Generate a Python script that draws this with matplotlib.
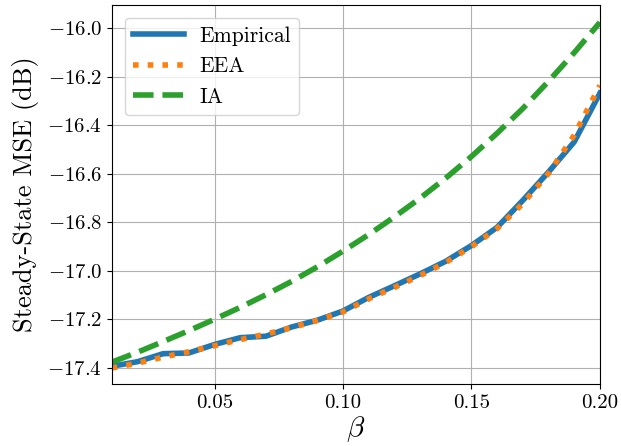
import numpy as np
import matplotlib
matplotlib.use("Agg")
import matplotlib.pyplot as plt

plt.rcParams['font.family'] = 'serif'
plt.rcParams['font.serif'] = ['cmr10']
plt.rcParams['mathtext.fontset'] = 'cm'
plt.rcParams['axes.formatter.use_mathtext'] = True
plt.rcParams['axes.unicode_minus'] = True

beta = [0.01, 0.02, 0.03, 0.04, 0.05, 0.06, 0.07, 0.08, 0.09, 0.10,
        0.11, 0.12, 0.13, 0.14, 0.15, 0.16, 0.17, 0.18, 0.19, 0.20]
empirical = [-17.393, -17.374, -17.341, -17.338, -17.303, -17.275, -17.269, -17.231, -17.203, -17.165,
             -17.109, -17.061, -17.012, -16.960, -16.895, -16.820, -16.709, -16.592, -16.468, -16.267]
eea = [-17.400, -17.380, -17.355, -17.333, -17.308, -17.283, -17.260, -17.234, -17.204, -17.169,
       -17.115, -17.068, -17.019, -16.965, -16.900, -16.825, -16.722, -16.598, -16.440, -16.235]
ia = [-17.376, -17.335, -17.291, -17.246, -17.199, -17.150, -17.098, -17.043, -16.983, -16.918,
      -16.850, -16.777, -16.700, -16.617, -16.528, -16.432, -16.330, -16.218, -16.100, -15.975]

fig = plt.figure(figsize=(6.21, 4.46), dpi=100)
ax = fig.add_axes([0.180, 0.139, 0.786, 0.850])

ax.plot(beta, empirical, color='#1f77b4', lw=4, label='Empirical')
ax.plot(beta, eea, color='#ff7f0e', lw=4, linestyle=':', label='EEA')
ax.plot(beta, ia, color='#2ca02c', lw=4, linestyle='--', label='IA')

ax.set_xlim(0.01, 0.20)
ax.set_ylim(-17.466, -15.903)
ax.set_xticks([0.05, 0.10, 0.15, 0.20])
ax.set_yticks([-17.4, -17.2, -17.0, -16.8, -16.6, -16.4, -16.2, -16.0])
ax.xaxis.set_major_formatter(matplotlib.ticker.FormatStrFormatter('%.2f'))
ax.yaxis.set_major_formatter(matplotlib.ticker.FuncFormatter(lambda v, p: r'$-%.1f$' % abs(v)))
ax.tick_params(labelsize=15)
ax.grid(True, color='#b0b0b0', linewidth=0.8)

ax.set_xlabel(r'$\beta$', fontsize=21, labelpad=2)
ax.set_ylabel('Steady-State MSE (dB)', fontsize=19, labelpad=6)
ax.legend(loc='upper left', fontsize=15.5, handlelength=2.35, handletextpad=0.7,
          borderaxespad=0.6)

fig.savefig('out.png', dpi=100)
